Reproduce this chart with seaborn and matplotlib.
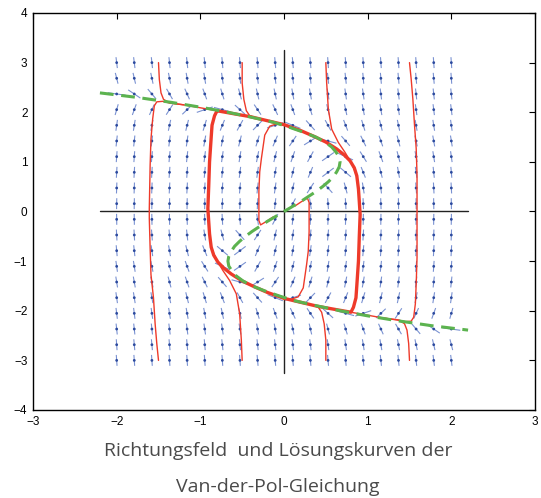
import matplotlib
matplotlib.use("Agg")
import matplotlib.pyplot as plt
import numpy as np
import pandas as pd
import seaborn as sns


# direction field grid (20 x 20), rows listed from top (y=3) to bottom (y=-3)
GRID_X = np.linspace(-2, 2, 20)
GRID_Y = np.linspace(3, -3, 20)

# on-screen tilt of every field glyph, degrees from vertical, + leans "/" , - leans "\"
TILT = [
    [-7, -7, -6, -6, -6, -6, -5, -5, -5, -5, -5, -5, -4, -4, -4, -4, -4, -4, -4, -4],
    [-14, -13, -12, -11, -10, -9, -8, -8, -7, -7, -7, -6, -6, -6, -5, -5, -5, -5, -5, -4],
    [-82, -56, -40, -30, -24, -20, -17, -15, -13, -12, -10, -10, -9, -8, -8, -7, -7, -6, -6, -6],
    [16, 20, 25, 33, 46, 71, -75, -48, -34, -25, -20, -17, -14, -12, -11, -10, -9, -8, -7, -7],
    [8, 9, 11, 12, 14, 17, 22, 29, 44, 72, -68, -42, -29, -21, -17, -14, -12, -10, -9, -8],
    [6, 6, 7, 7, 8, 10, 11, 14, 17, 23, 34, 58, -75, -41, -26, -19, -15, -12, -10, -9],
    [4, 4, 5, 5, 6, 7, 8, 9, 11, 14, 19, 29, 55, -66, -32, -20, -15, -11, -9, -8],
    [3, 3, 3, 4, 4, 5, 6, 7, 8, 10, 14, 23, 53, -50, -22, -14, -10, -8, -6, -5],
    [2, 2, 2, 3, 3, 3, 4, 5, 6, 8, 13, 33, -42, -15, -9, -6, -5, -4, -3, -3],
    [1, 1, 1, 1, 1, 1, 2, 2, 3, 6, 27, -9, -4, -3, -2, -2, -1, -1, -1, -1],
    [-1, -1, -1, -1, -2, -2, -3, -4, -9, 27, 6, 3, 2, 2, 1, 1, 1, 1, 1, 1],
    [-3, -3, -4, -5, -6, -9, -15, -42, 33, 13, 8, 6, 5, 4, 3, 3, 3, 2, 2, 2],
    [-5, -6, -8, -10, -14, -22, -50, 53, 23, 14, 10, 8, 7, 6, 5, 4, 4, 3, 3, 3],
    [-8, -9, -11, -15, -20, -32, -66, 55, 29, 19, 14, 11, 9, 8, 7, 6, 5, 5, 4, 4],
    [-9, -10, -12, -15, -19, -26, -41, -75, 58, 34, 23, 17, 14, 11, 10, 8, 7, 7, 6, 6],
    [-8, -9, -10, -12, -14, -17, -21, -29, -42, -68, 72, 44, 29, 22, 17, 14, 12, 11, 9, 8],
    [-7, -7, -8, -9, -10, -11, -12, -14, -17, -20, -25, -34, -48, -75, 71, 46, 33, 25, 20, 16],
    [-6, -6, -6, -7, -7, -8, -8, -9, -10, -10, -12, -13, -15, -17, -20, -24, -30, -40, -56, -82],
    [-4, -5, -5, -5, -5, -5, -6, -6, -6, -7, -7, -7, -8, -8, -9, -10, -11, -12, -13, -14],
    [-4, -4, -4, -4, -4, -4, -4, -4, -5, -5, -5, -5, -5, -5, -6, -6, -6, -6, -7, -7],
]

# limit cycle (thick red)
CYCLE = [
    (-0.80, 2.03), (-0.60, 1.97), (-0.40, 1.91), (-0.20, 1.83), (0.00, 1.75), (0.20, 1.63),
    (0.35, 1.52), (0.50, 1.40), (0.63, 1.26), (0.72, 1.14), (0.79, 1.02), (0.84, 0.88),
    (0.87, 0.72), (0.89, 0.45), (0.90, 0.20), (0.91, -0.06), (0.90, -0.50), (0.89, -1.00),
    (0.87, -1.50), (0.86, -1.74), (0.83, -1.93), (0.80, -2.03), (0.60, -1.97), (0.40, -1.91),
    (0.20, -1.83), (0.00, -1.75), (-0.20, -1.63), (-0.35, -1.52), (-0.50, -1.40), (-0.63, -1.26),
    (-0.72, -1.14), (-0.79, -1.02), (-0.84, -0.88), (-0.87, -0.72), (-0.89, -0.45), (-0.90, -0.20),
    (-0.91, 0.06), (-0.90, 0.50), (-0.89, 1.00), (-0.87, 1.50), (-0.86, 1.74), (-0.83, 1.93),
    (-0.80, 2.03),
]

# thin red solution curves
SOL_TOP_M15 = [(-1.50, 3.00), (-1.49, 2.66), (-1.47, 2.39), (-1.44, 2.26), (-1.37, 2.19),
               (-1.20, 2.15), (-1.00, 2.09), (-0.80, 2.03), (-0.60, 1.97)]
SOL_BOT_M15 = [(-1.50, -3.00), (-1.52, -2.67), (-1.54, -2.27), (-1.56, -1.74), (-1.59, -1.27),
               (-1.60, -0.74), (-1.61, -0.14), (-1.61, 0.06), (-1.60, 0.93), (-1.59, 1.46),
               (-1.57, 1.86), (-1.55, 2.13), (-1.52, 2.21), (-1.45, 2.22), (-1.35, 2.18),
               (-1.20, 2.15)]
SOL_TOP_M05 = [(-0.50, 3.00), (-0.50, 2.59), (-0.48, 2.26), (-0.45, 2.03), (-0.41, 1.93),
               (-0.35, 1.89), (-0.20, 1.83)]
SOL_TOP_P05 = [(0.50, 3.00), (0.51, 2.59), (0.53, 2.06), (0.57, 1.66), (0.65, 1.39),
               (0.73, 1.19), (0.79, 1.02), (0.84, 0.85), (0.87, 0.70)]
SOL_TOP_P15 = [(1.50, 3.00), (1.52, 2.67), (1.54, 2.27), (1.56, 1.74), (1.58, 1.27),
               (1.59, 0.74), (1.59, 0.14), (1.59, -0.06), (1.59, -0.93), (1.58, -1.46),
               (1.57, -1.86), (1.55, -2.13), (1.52, -2.21), (1.45, -2.22), (1.35, -2.18),
               (1.20, -2.15)]
SOL_BOT_P15 = [(1.50, -3.00), (1.49, -2.66), (1.47, -2.39), (1.44, -2.26), (1.37, -2.19),
               (1.20, -2.15), (1.00, -2.09), (0.80, -2.03), (0.60, -1.97)]
SOL_BOT_P05 = [(0.50, -3.00), (0.50, -2.59), (0.48, -2.26), (0.45, -2.03), (0.41, -1.93),
               (0.35, -1.89), (0.20, -1.83)]
SOL_BOT_M05 = [(-0.50, -3.00), (-0.51, -2.59), (-0.53, -2.06), (-0.57, -1.66), (-0.65, -1.39),
               (-0.73, -1.19), (-0.79, -1.02), (-0.84, -0.85), (-0.87, -0.70)]
SOL_MID_P = [(0.13, 0.11), (0.21, 0.20), (0.28, 0.27), (0.30, 0.18), (0.30, -0.41),
             (0.29, -0.80), (0.27, -1.07), (0.23, -1.54), (0.17, -1.72), (0.08, -1.77)]
SOL_MID_M = [(-0.13, -0.11), (-0.21, -0.20), (-0.28, -0.27), (-0.30, -0.18), (-0.30, 0.41),
             (-0.29, 0.80), (-0.27, 1.07), (-0.23, 1.54), (-0.17, 1.72), (-0.08, 1.77)]

# green dashed curve (nullcline), upper half; the lower half mirrors it through the origin
NULL_Y = [2.39, 2.30, 2.20, 2.10, 2.00, 1.90, 1.80, 1.70, 1.60, 1.50, 1.40, 1.30, 1.20, 1.10,
          1.00, 0.90, 0.80, 0.70, 0.60, 0.50, 0.40, 0.30, 0.20, 0.10, 0.00]
NULL_X = [-2.20, -1.76, -1.35, -0.99, -0.67, -0.39, -0.13, 0.06, 0.23, 0.38, 0.49, 0.57, 0.62, 0.66,
          0.67, 0.66, 0.63, 0.59, 0.53, 0.46, 0.38, 0.29, 0.20, 0.10, 0.00]

# coordinate cross
CROSS_H = [(-2.2, 0.0), (2.2, 0.0)]
CROSS_V = [(0.0, -3.25), (0.0, 3.25)]

CAPTION = ["Richtungsfeld  und Lösungskurven der", "Van-der-Pol-Gleichung"]

sns.set_theme(style="white")
plt.rcParams["font.family"] = ["Liberation Sans", "DejaVu Sans"]

W, H = 541, 498
fig = plt.figure(figsize=(W / 100, H / 100), dpi=100)
ax_box = [33 / W, 88 / H, 502 / W, 397 / H]
ax = fig.add_axes(ax_box)
ax.set_xlim(-3, 3)
ax.set_ylim(-4, 4)

# field glyphs: fixed length in data units, tilt given on screen
px_x = ax_box[2] * W / 6
px_y = ax_box[3] * H / 8
gx, gy = np.meshgrid(GRID_X, GRID_Y)
phi = np.radians(np.array(TILT, dtype=float))
dx = np.sin(phi) / px_x
dy = np.cos(phi) / px_y
norm = np.hypot(dx, dy)
glyph_len = 0.22
ax.quiver(gx, gy, glyph_len * dx / norm, glyph_len * dy / norm, angles="xy", scale_units="xy",
          scale=1, pivot="middle", color="#7a92d2", width=0.0022, headwidth=1, headlength=0,
          headaxislength=0, zorder=2)
field = pd.DataFrame({"x": gx.ravel(), "y": gy.ravel()})
sns.scatterplot(data=field, x="x", y="y", ax=ax, s=4, color="#2c4a9e", edgecolor="none", zorder=3)

# coordinate cross
for seg in (CROSS_H, CROSS_V):
    d = pd.DataFrame(seg, columns=["x", "y"])
    sns.lineplot(data=d, x="x", y="y", ax=ax, sort=False, estimator=None, color="#222222",
                 linewidth=1.0, zorder=2.5)

red = "#ee3a2a"
for curve in (SOL_TOP_M15, SOL_BOT_M15, SOL_TOP_M05, SOL_TOP_P05, SOL_TOP_P15, SOL_BOT_P15,
              SOL_BOT_P05, SOL_BOT_M05, SOL_MID_P, SOL_MID_M):
    d = pd.DataFrame(curve, columns=["x", "y"])
    sns.lineplot(data=d, x="x", y="y", ax=ax, sort=False, estimator=None, color=red,
                 linewidth=1.0, zorder=4)

cyc = pd.DataFrame(CYCLE, columns=["x", "y"])
sns.lineplot(data=cyc, x="x", y="y", ax=ax, sort=False, estimator=None, color=red,
             linewidth=2.4, zorder=5)

null = pd.DataFrame({"x": NULL_X + [-v for v in NULL_X[-2::-1]],
                     "y": NULL_Y + [-v for v in NULL_Y[-2::-1]]})
sns.lineplot(data=null, x="x", y="y", ax=ax, sort=False, estimator=None, color="#5cb34f",
             linewidth=2.2, zorder=6, linestyle=(0, (4.5, 2.5)))

ax.set_xticks(range(-3, 4))
ax.set_yticks(range(-4, 5))
ax.set_xlabel("")
ax.set_ylabel("")
ax.tick_params(direction="in", length=4, width=0.8, top=True, right=True, labelsize=8.5,
               colors="black")
ax.tick_params(axis="x", pad=4.5)
ax.tick_params(axis="y", pad=4)
for sp in ax.spines.values():
    sp.set_color("black")
    sp.set_linewidth(1.0)

for i, line in enumerate(CAPTION):
    fig.text(278 / W, 1 - (451 + 36 * i) / H, line, ha="center", va="center",
             fontsize=14, color="#4a4a4a", family=["Open Sans", "DejaVu Sans"])

fig.savefig("out.png", dpi=100)
